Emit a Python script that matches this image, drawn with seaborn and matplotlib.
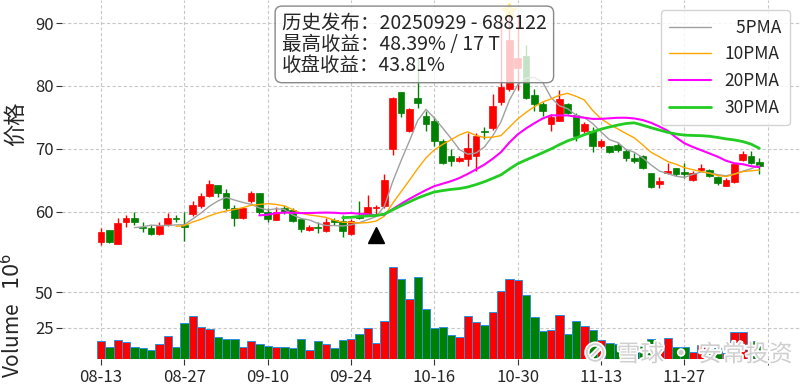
import matplotlib
matplotlib.use('Agg')
import matplotlib.pyplot as plt
import matplotlib.patheffects as pe
import numpy as np
import pandas as pd
import seaborn as sns

# daily OHLC (yuan) and volume (1e6 shares), 08-13 .. 12-10
opens = [55.2, 57.0, 54.9, 58.4, 58.9, 57.6, 57.4, 56.5, 58.0, 59.0,
         57.9, 59.6, 60.9, 62.5, 64.2, 63.0, 60.5, 59.0, 61.7, 62.9,
         60.0, 58.7, 60.5, 60.2, 58.8, 57.1, 57.6, 56.9, 58.7, 58.5,
         56.5, 59.3, 59.5, 60.5, 60.9, 70.0, 79.0, 72.9, 78.1, 75.2,
         74.4, 71.3, 68.9, 68.1, 68.3, 68.8, 72.9, 73.3, 77.5, 79.5,
         82.8, 84.7, 78.5, 77.1, 74.0, 74.5, 77.1, 75.3, 72.8, 72.9,
         70.4, 70.4, 70.6, 69.6, 68.5, 68.9, 66.1, 64.4, 66.1, 66.9,
         66.3, 65.1, 66.6, 66.6, 65.5, 64.1, 64.7, 68.2, 68.9, 67.9]
highs = [57.3, 57.1, 59.0, 59.4, 60.0, 58.3, 57.9, 58.3, 59.8, 59.4,
         60.0, 61.6, 63.0, 65.0, 64.2, 63.6, 61.0, 60.8, 63.3, 62.9,
         60.5, 60.7, 61.0, 60.5, 58.8, 57.8, 58.3, 59.0, 59.0, 59.5,
         58.8, 61.6, 62.7, 61.0, 66.0, 78.3, 79.0, 76.5, 84.4, 76.0,
         75.0, 71.5, 70.0, 68.9, 72.5, 72.5, 73.5, 78.8, 91.0, 92.0,
         91.5, 86.6, 79.5, 77.5, 75.5, 79.4, 77.3, 75.7, 74.3, 73.5,
         71.5, 70.5, 71.1, 70.0, 69.3, 69.0, 66.1, 65.5, 67.7, 67.0,
         67.7, 66.4, 67.6, 66.8, 65.7, 65.3, 67.7, 69.6, 69.6, 68.5]
lows = [54.7, 55.0, 54.9, 57.5, 57.8, 56.8, 56.3, 56.3, 57.7, 58.3,
        55.3, 59.3, 60.6, 62.3, 62.3, 60.2, 57.7, 58.8, 61.3, 59.6,
        58.4, 58.6, 59.6, 58.4, 56.8, 56.9, 56.6, 56.8, 57.8, 56.0,
        56.3, 58.8, 59.3, 59.5, 60.5, 69.0, 75.0, 72.6, 76.5, 72.8,
        70.5, 67.6, 67.3, 67.9, 67.2, 66.4, 71.5, 73.0, 77.0, 79.2,
        79.4, 78.0, 76.0, 75.2, 72.9, 74.4, 75.5, 71.2, 72.5, 69.5,
        70.2, 69.3, 69.5, 68.0, 67.8, 66.8, 63.8, 63.8, 66.0, 65.7,
        65.3, 64.9, 66.4, 65.5, 64.2, 64.0, 64.5, 68.0, 67.6, 66.0]
closes = [56.8, 55.1, 58.1, 58.9, 58.3, 57.4, 56.5, 57.7, 59.0, 58.8,
          57.5, 61.1, 62.4, 64.4, 62.9, 60.5, 59.0, 60.5, 62.9, 60.0,
          58.8, 60.0, 60.0, 58.5, 57.2, 57.6, 57.3, 58.3, 58.4, 56.9,
          58.5, 59.0, 60.7, 60.8, 65.1, 78.1, 75.7, 76.3, 77.3, 74.0,
          71.2, 67.8, 68.0, 68.5, 70.2, 72.1, 72.6, 76.8, 79.8, 87.3,
          84.4, 78.1, 77.2, 76.0, 75.1, 77.9, 75.7, 72.1, 74.0, 70.4,
          71.3, 69.5, 69.8, 68.5, 68.1, 66.9, 63.9, 64.9, 66.4, 66.0,
          66.0, 66.2, 66.9, 65.7, 64.6, 65.1, 67.6, 69.1, 67.7, 67.2]
volumes = [15.6, 11.6, 16.3, 14.9, 11.6, 10.4, 9.2, 13.4, 19.1, 11.6,
           28.5, 33.2, 25.2, 24.3, 18.6, 16.7, 16.7, 11.6, 15.6, 13.4,
           12.3, 11.6, 11.6, 10.8, 16.7, 9.2, 15.6, 13.4, 10.4, 16.3,
           16.7, 20.5, 24.5, 13.9, 29.9, 67.7, 59.2, 45.0, 61.1, 38.0,
           24.8, 25.2, 19.8, 18.4, 33.0, 28.8, 26.9, 36.3, 50.9, 59.7,
           58.7, 48.3, 32.5, 22.9, 23.3, 33.7, 20.5, 29.5, 25.9, 23.3,
           16.0, 14.1, 13.4, 12.7, 11.1, 12.3, 17.2, 13.4, 17.9, 11.6,
           11.6, 8.0, 12.7, 9.9, 10.8, 7.0, 21.7, 21.7, 15.6, 12.3]

tick_labels = ['08-13', '08-27', '09-10', '09-24', '10-16', '10-30', '11-13', '11-27', '']

ma_windows = [5, 10, 20, 30]
ma_labels = ['\u20075PMA', '10PMA', '20PMA', '30PMA']
ma_colors = ['#a0a0a0', '#ffa500', '#ff00ff', '#22cc22']
ma_widths = [1.0, 1.0, 1.5, 2.0]

release_idx = 33   # 2025-09-29
peak_idx = 49
info_lines = ['历史发布：20250929 - 688122',
              '最高收益：48.39% / 17 T',
              '收盘收益：43.81%']

sns.set_theme(style='white')
plt.rcParams['font.family'] = ['Noto Sans CJK SC', 'DejaVu Sans']
plt.rcParams['axes.unicode_minus'] = False

df = pd.DataFrame({'open': opens, 'high': highs, 'low': lows, 'close': closes, 'volume': volumes})
df['idx'] = np.arange(len(df))
up = df['close'] >= df['open']
colors = np.where(up, '#ff0000', '#008000')

fig = plt.figure(figsize=(8, 3.85), dpi=100)
ax = fig.add_axes([0.0775, 0.3299, 0.9225, 0.6701])
axv = fig.add_axes([0.0775, 0.0675, 0.9225, 0.2519], sharex=ax)

# candles
ax.vlines(df['idx'], df['low'], df['high'], colors=colors, lw=1, zorder=2)
body = (df['close'] - df['open']).abs().clip(lower=0.15)
ax.bar(df['idx'], body, bottom=df[['open', 'close']].min(axis=1), width=0.8,
       color=colors, edgecolor=colors, lw=0.5, zorder=3)

# moving averages
for w, lab, col, lw in zip(ma_windows, ma_labels, ma_colors, ma_widths):
    df[f'ma{w}'] = df['close'].rolling(w).mean()
    sns.lineplot(data=df, x='idx', y=f'ma{w}', ax=ax, color=col, lw=lw, label=lab, zorder=4)

ax.plot(release_idx, df['low'][release_idx] * 0.946, marker='^', color='black', ms=11, ls='none', zorder=5)
ax.plot(peak_idx, df['high'][peak_idx], marker='*', color='#ffd700', alpha=0.6, ms=12, ls='none', zorder=5)

# volume
axv.bar(df['idx'], df['volume'], width=1.0, color=colors, edgecolor='#2f8fe0', lw=0.7, zorder=3)

ax.set_xlim(-4.68, 83.88)
ax.set_ylim(52.6, 93.7)
axv.set_ylim(2.8, 71.5)
ax.set_yticks([60, 70, 80, 90])
axv.set_yticks([25, 50])
axv.set_xticks(range(0, 81, 10))
axv.set_xticklabels(tick_labels)

for a in (ax, axv):
    a.grid(True, ls='--', color='#c8c8c8', lw=0.8, dashes=(3, 2))
    a.set_axisbelow(True)
    for s in a.spines.values():
        s.set_visible(False)
    a.tick_params(axis='y', left=True, length=4, width=0.8, color='#333333', labelsize=12, pad=2)
ax.tick_params(axis='x', bottom=False, labelbottom=False)
axv.tick_params(axis='x', bottom=True, length=4, width=0.8, color='#333333', labelsize=12, pad=3)

ax.set_xlabel('')
axv.set_xlabel('')
ax.set_ylabel('价格', fontsize=16)
axv.set_ylabel('Volume   $10^{6}$', fontsize=15)
ax.yaxis.set_label_coords(-0.047, 0.52)
axv.yaxis.set_label_coords(-0.05, 0.45)

ax.legend(loc='upper right', bbox_to_anchor=(0.986, 0.961), borderaxespad=0, fontsize=12.5,
          frameon=True, fancybox=True, edgecolor='#cccccc', framealpha=0.85,
          handlelength=2.4, labelspacing=0.5, borderpad=0.5)

ax.text(0.298, 0.95, '\n'.join(info_lines), transform=ax.transAxes, va='top', ha='left',
        fontsize=14, linespacing=1.0, zorder=10,
        bbox=dict(boxstyle='round,pad=0.35', fc=(1, 1, 1, 0.78), ec='#888888', lw=1))

# watermark
wm = [pe.withStroke(linewidth=2.5, foreground='white')]
fig.text(0.744, 0.078, '⊘', fontsize=18, color='#cfcfcf', ha='center', va='center', path_effects=wm)
fig.text(0.771, 0.078, '雪球 · 安常投资', fontsize=17, color='#cfcfcf', ha='left', va='center', path_effects=wm)

fig.savefig('out.png', dpi=100)
